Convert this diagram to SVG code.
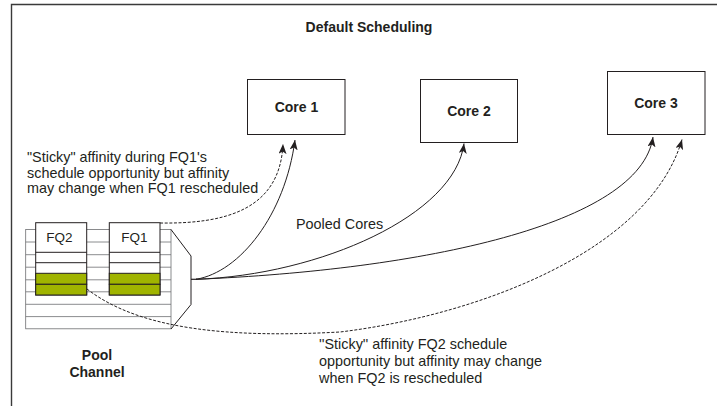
<svg xmlns="http://www.w3.org/2000/svg" width="717" height="406" viewBox="0 0 717 406">
  <style>
    text { font-family: "Liberation Sans", Arial, sans-serif; fill: #231f20; }
    .b { font-weight: bold; font-size: 14px; }
    .n { font-size: 14.4px; }
    .box { fill: #ffffff; stroke: #231f20; stroke-width: 1; }
    .grid { fill: none; stroke: #6d6e71; stroke-width: 0.8; }
    .fq { fill: #ffffff; stroke: #231f20; stroke-width: 1; }
    .green { fill: #a0b400; stroke: #231f20; stroke-width: 1; }
    .solid { fill: none; stroke: #231f20; stroke-width: 1; }
    .dash { fill: none; stroke: #231f20; stroke-width: 1; stroke-dasharray: 3 1.6; }
  </style>
  <defs>
    <marker id="ah" markerUnits="userSpaceOnUse" markerWidth="11" markerHeight="9" refX="10" refY="4" orient="auto">
      <path d="M0,0 L10,4 L0,8 L2.5,4 z" fill="#231f20"/>
    </marker>
  </defs>
  <rect width="717" height="406" fill="#ffffff"/>
  <g id="frame">
    <path d="M11.5,406 V4.5 H717" fill="none" stroke="#3a3a3a" stroke-width="1.4"/>
  </g>
  <g id="title">
    <text class="b" x="369" y="32" text-anchor="middle">Default Scheduling</text>
  </g>
  <g id="core1">
    <rect class="box" x="247.5" y="79.5" width="97.5" height="55"/>
    <text class="b" x="296.5" y="112" text-anchor="middle">Core 1</text>
  </g>
  <g id="core2">
    <rect class="box" x="420.5" y="79.5" width="97" height="63"/>
    <text class="b" x="469" y="116" text-anchor="middle">Core 2</text>
  </g>
  <g id="core3">
    <rect class="box" x="607.5" y="71.5" width="97.5" height="63"/>
    <text class="b" x="656" y="107.5" text-anchor="middle">Core 3</text>
  </g>
  <g id="pool-channel">
    <rect class="grid" x="25.7" y="229.5" width="145.3" height="99.3" fill="#ffffff"/>
    <path class="grid" d="M25.7,242 H171 M25.7,254.7 H171 M25.7,267.2 H171 M25.7,279.8 H171 M25.7,291.8 H171 M25.7,304.3 H171 M25.7,316.6 H171"/>
    <path d="M171,229.5 L191,256 L191,304.5 L171,329" fill="none" stroke="#231f20" stroke-width="1"/>
    <path d="M191,279.3 H197" stroke="#231f20" stroke-width="1.2"/>
    <text class="b" x="97" y="359.5" text-anchor="middle">Pool</text>
    <text class="b" x="97" y="377" text-anchor="middle">Channel</text>
  </g>
  <g id="fq2">
    <rect class="fq" x="35.7" y="222.7" width="51" height="72.3"/>
    <path class="fq" d="M35.7,252.3 H86.7 M35.7,262.7 H86.7"/>
    <rect class="green" x="35.7" y="273.3" width="51" height="11"/>
    <rect class="green" x="35.7" y="284.3" width="51" height="10.7"/>
    <text x="59.5" y="242" text-anchor="middle" style="font-size:13.5px">FQ2</text>
  </g>
  <g id="fq1">
    <rect class="fq" x="109.3" y="222.7" width="50.7" height="72.3"/>
    <path class="fq" d="M109.3,252.3 H160 M109.3,262.7 H160"/>
    <rect class="green" x="109.3" y="273.3" width="50.7" height="11"/>
    <rect class="green" x="109.3" y="284.3" width="50.7" height="10.7"/>
    <text x="134.5" y="242" text-anchor="middle" style="font-size:13.5px">FQ1</text>
  </g>
  <g id="connectors">
    <path class="solid" d="M196,279.3 C240,272 285,215 295,140" marker-end="url(#ah)"/>
    <path class="dash" d="M160,223 C225,224 280,210 283,144" marker-end="url(#ah)"/>
    <path class="solid" d="M196,279.3 C320,275 455,215 464,143.5" marker-end="url(#ah)"/>
    <path class="solid" d="M196,279.3 C420,270 640,225 653,137" marker-end="url(#ah)"/>
    <path class="dash" d="M87,289 C140,330 230,338 340,332 C480,315 650,250 682,139.5" marker-end="url(#ah)"/>
  </g>
  <g id="labels">
    <text class="n" x="27" y="162">"Sticky" affinity during FQ1's</text>
    <text class="n" x="27" y="177.5">schedule opportunity but affinity</text>
    <text class="n" x="27" y="193">may change when FQ1 rescheduled</text>
    <text class="n" x="296" y="228.5">Pooled Cores</text>
    <text class="n" x="319" y="349">''Sticky'' affinity FQ2 schedule</text>
    <text class="n" x="319" y="366">opportunity but affinity may change</text>
    <text class="n" x="319" y="383">when FQ2 is rescheduled</text>
  </g>
</svg>
